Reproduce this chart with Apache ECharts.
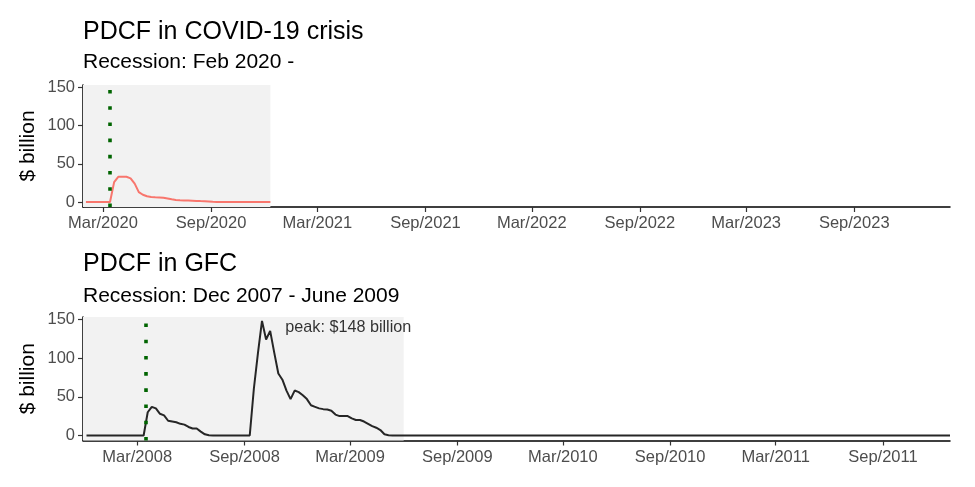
<!DOCTYPE html>
<html>
<head>
<meta charset="utf-8">
<script src="https://cdn.jsdelivr.net/npm/echarts@6/dist/echarts.min.js"></script>
<style>html,body{margin:0;padding:0;background:#fff;}#c{width:975px;height:487px;}</style>
</head>
<body>
<div id="c"></div>
<script>
// ---- Data (weekly levels, $ billion) ----
const covidDates = ['2020-02-01','2020-03-13','2020-03-20','2020-03-27','2020-04-03','2020-04-10','2020-04-17','2020-04-24','2020-05-01','2020-05-08','2020-05-15','2020-05-22','2020-05-29','2020-06-05','2020-06-12','2020-06-19','2020-06-26','2020-07-03','2020-07-10','2020-07-17','2020-07-24','2020-07-31','2020-08-07','2020-08-14','2020-08-21','2020-08-28','2020-09-04','2020-09-11','2020-12-11'];
const covidValues = [0,0,26,33,33,33,31,24,13,9.5,7.5,6.5,6.2,6,5.5,4.5,3.5,2.8,2.2,2,2,1.8,1.5,1.2,1,0.8,0.3,0,0];

const gfcDates = ['2007-12-05','2008-03-12','2008-03-19','2008-03-26','2008-04-02','2008-04-09','2008-04-16','2008-04-23','2008-04-30','2008-05-07','2008-05-14','2008-05-21','2008-05-28','2008-06-04','2008-06-11','2008-06-18','2008-06-25','2008-07-02','2008-07-09','2008-09-10','2008-09-17','2008-09-24','2008-10-01','2008-10-08','2008-10-15','2008-10-22','2008-10-29','2008-11-05','2008-11-12','2008-11-19','2008-11-26','2008-12-03','2008-12-10','2008-12-17','2008-12-24','2008-12-31','2009-01-07','2009-01-14','2009-01-21','2009-01-28','2009-02-04','2009-02-11','2009-02-18','2009-02-25','2009-03-04','2009-03-11','2009-03-18','2009-03-25','2009-04-01','2009-04-08','2009-04-15','2009-04-22','2009-04-29','2009-05-06','2009-05-13','2011-12-25'];
const gfcValues = [0,0,30,37,35,28,26,19,18,17,15,14,11,9,9,5,1.5,0.3,0,0,60,106,148,124,135,107,80,72,58,47,58,56,52,47,39,37,35,34,33.5,32,27,25,25,25,22,20,20,18,15,12,10,7,1.5,0.3,0,0];

// x-axis ranges, recession shading, PDCF start marker
const covidRange = ['2020-01-27','2024-02-11'];
const gfcRange = ['2007-11-29','2011-12-25'];
const covidShadeEnd = '2020-12-11';
const gfcShadeEnd = '2009-06-01';
const covidStart = '2020-03-12';
const gfcStart = '2008-03-15';

// tick labels
const covidTicks = ['2020-03-01','2020-09-01','2021-03-01','2021-09-01','2022-03-01','2022-09-01','2023-03-01','2023-09-01'];
const covidTickLabels = ['Mar/2020','Sep/2020','Mar/2021','Sep/2021','Mar/2022','Sep/2022','Mar/2023','Sep/2023'];
const gfcTicks = ['2008-03-01','2008-09-01','2009-03-01','2009-09-01','2010-03-01','2010-09-01','2011-03-01','2011-09-01'];
const gfcTickLabels = ['Mar/2008','Sep/2008','Mar/2009','Sep/2009','Mar/2010','Sep/2010','Mar/2011','Sep/2011'];
const yTicks = [0,50,100,150];

// annotation
const peakText = 'peak: $148 billion';
const peakAnchor = ['2008-11-10', 140];

// ---- Build ----
function t(s){const p=s.split('-').map(Number);return Date.UTC(p[0],p[1]-1,p[2]);}
const Y_MIN = -6.5, Y_MAX = 153;
const FONT = 'Liberation Sans, Arial, Helvetica, sans-serif';

function xAxisFor(gi, range, ticks, labels){
  const tv = ticks.map(t);
  return {
    type:'value', gridIndex:gi, min:t(range[0]), max:t(range[1]), scale:true,
    axisLine:{show:true, onZero:false, lineStyle:{color:'#000', width:1.5}},
    axisTick:{show:true, length:5, customValues:tv, lineStyle:{color:'#333', width:1.2}},
    axisLabel:{customValues:tv, margin:8, color:'#4D4D4D', fontSize:16.5, fontFamily:FONT,
      formatter:function(v){const i=tv.indexOf(v);return i>=0?labels[i]:'';}},
    splitLine:{show:false}
  };
}
function yAxisFor(gi){
  return {
    type:'value', gridIndex:gi, min:Y_MIN, max:Y_MAX,
    name:'$ billion', nameLocation:'middle', nameGap:44, nameRotate:90, nameMoveOverlap:false,
    nameTextStyle:{color:'#000', fontSize:21, fontFamily:FONT},
    axisLine:{show:true, onZero:false, lineStyle:{color:'#000', width:1.5}},
    axisTick:{show:true, length:5, customValues:yTicks, lineStyle:{color:'#333', width:1.2}},
    axisLabel:{customValues:yTicks, margin:8, color:'#4D4D4D', fontSize:16.5, fontFamily:FONT},
    splitLine:{show:false}
  };
}
function shadeSeries(gi, range, end){
  return {type:'line', xAxisIndex:gi, yAxisIndex:gi, data:[], z:1, silent:true,
    markArea:{silent:true, itemStyle:{color:'#F2F2F2'},
      data:[[{coord:[t(range[0]), Y_MIN]},{coord:[t(end), Y_MAX]}]]}};
}
function vlineSeries(gi, d){
  return {type:'line', xAxisIndex:gi, yAxisIndex:gi, data:[], z:5, silent:true,
    markLine:{silent:true, symbol:['none','none'], label:{show:false}, animation:false,
      lineStyle:{color:'#006400', width:3.6, type:[3.6,12.6], cap:'butt'},
      emphasis:{disabled:true},
      data:[[{coord:[t(d), Y_MIN]},{coord:[t(d), Y_MAX]}]]}};
}
function dataSeries(gi, dates, vals, color){
  return {type:'line', xAxisIndex:gi, yAxisIndex:gi, z:3, showSymbol:false, silent:true,
    lineStyle:{color:color, width:2}, data:dates.map((d,i)=>[t(d), vals[i]])};
}

function ttl(text, top, size){
  return {text:text, left:83, top:top, padding:0, textStyle:{fontFamily:FONT, color:'#000', fontWeight:'normal', fontSize:size, lineHeight:size}};
}
const option = {
  animation:false,
  backgroundColor:'#fff',
  title:[
    ttl('PDCF in COVID-19 crisis', 20, 25),
    ttl('Recession: Feb 2020 -', 52, 21),
    ttl('PDCF in GFC', 252, 25),
    ttl('Recession: Dec 2007 - June 2009', 285.5, 21)
  ],
  grid:[
    {left:83, right:25, top:85, height:122},
    {left:83, right:25, top:317, height:123.5}
  ],
  xAxis:[ xAxisFor(0, covidRange, covidTicks, covidTickLabels), xAxisFor(1, gfcRange, gfcTicks, gfcTickLabels) ],
  yAxis:[ yAxisFor(0), yAxisFor(1) ],
  series:[
    shadeSeries(0, covidRange, covidShadeEnd),
    shadeSeries(1, gfcRange, gfcShadeEnd),
    dataSeries(0, covidDates, covidValues, '#F8766D'),
    dataSeries(1, gfcDates, gfcValues, '#262626'),
    vlineSeries(0, covidStart),
    vlineSeries(1, gfcStart),
    {type:'scatter', xAxisIndex:1, yAxisIndex:1, z:6, silent:true, symbolSize:0,
      data:[[t(peakAnchor[0]), peakAnchor[1]]],
      label:{show:true, position:'right', distance:0, formatter:peakText, color:'#000', fontSize:16.2, fontFamily:FONT}}
  ]
};
const chart = echarts.init(document.getElementById('c'), null, {renderer:'canvas'});
chart.setOption(option);
</script>
</body>
</html>
